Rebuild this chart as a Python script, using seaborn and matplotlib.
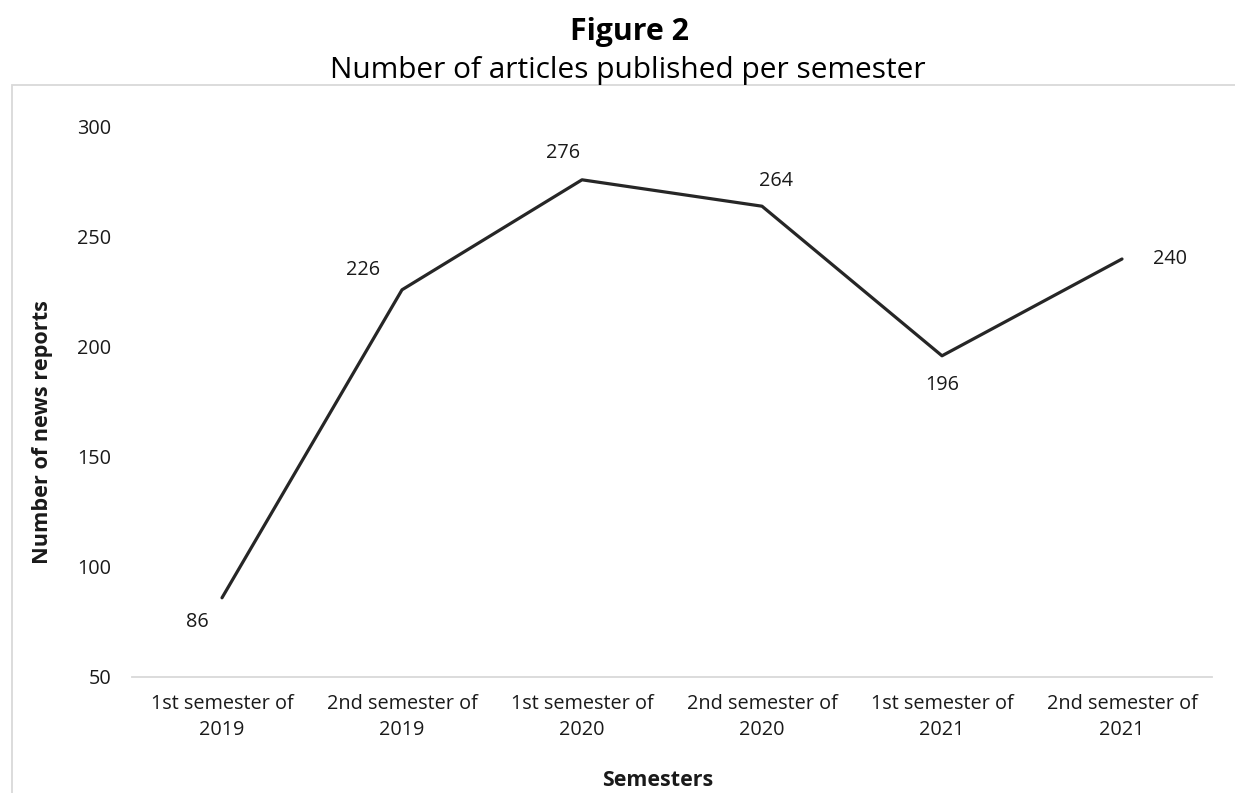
import pandas as pd
import matplotlib.pyplot as plt
import seaborn as sns
from matplotlib.patches import Rectangle

# data
semesters = ["1st semester of\n2019", "2nd semester of\n2019",
             "1st semester of\n2020", "2nd semester of\n2020",
             "1st semester of\n2021", "2nd semester of\n2021"]
reports = [86, 226, 276, 264, 196, 240]
# label offsets in pixels (dx, dy) relative to each point
label_offsets = [(-25, -24), (-39, 20), (-19, 27), (14, 25), (0, -29), (48, 0)]
y_ticks = [50, 100, 150, 200, 250, 300]

sns.set_theme(style="white")
plt.rcParams['font.family'] = ['Open Sans', 'DejaVu Sans']

df = pd.DataFrame({"pos": range(len(semesters)), "reports": reports})

dpi = 100
W, H = 1235, 793
fig = plt.figure(figsize=(W / dpi, H / dpi), dpi=dpi)
ax = fig.add_axes([132 / W, 1 - 677 / H, (1212 - 132) / W, (677 - 127) / H])

sns.lineplot(data=df, x="pos", y="reports", ax=ax, color="#262626", linewidth=2.3)

ax.set_xlim(-0.5, len(semesters) - 0.5)
ax.set_ylim(50, 300)
ax.set_xticks(range(len(semesters)))
ax.set_xticklabels(semesters, fontsize=14.3, color="#1a1a1a", linespacing=1.42)
ax.set_yticks(y_ticks)
ax.set_yticklabels([str(t) for t in y_ticks], fontsize=14.3, color="#1a1a1a")
ax.tick_params(axis="both", length=0)
ax.tick_params(axis="x", pad=12)
ax.tick_params(axis="y", pad=15)

for side in ["top", "right", "left"]:
    ax.spines[side].set_visible(False)
ax.spines["bottom"].set_color("#d9d9d9")
ax.spines["bottom"].set_linewidth(1.3)

pt = 72 / dpi
for i, (v, (dx, dy)) in enumerate(zip(reports, label_offsets)):
    ax.annotate(str(v), (i, v), xytext=(dx * pt, dy * pt), textcoords="offset points",
                ha="center", va="center", fontsize=14.3, color="#1a1a1a")

ax.set_xlabel("")
ax.set_ylabel("")
fig.text(43 / W, 1 - 432 / H, "Number of news reports", rotation=90,
         ha="center", va="center", fontsize=15.6, fontweight="bold", color="#1a1a1a")
fig.text(658 / W, 1 - 780 / H, "Semesters", ha="center", va="center",
         fontsize=15.4, fontweight="bold", color="#1a1a1a")

fig.text(629 / W, 1 - 40 / H, "Figure 2", ha="center", va="baseline",
         fontsize=21.8, fontweight="bold", color="black")
fig.text(628 / W, 1 - 78 / H, "Number of articles published per semester",
         ha="center", va="baseline", fontsize=21.5, color="black")

# chart area border
fig.patches.append(Rectangle((12 / W, -0.05), 1.1, 1 - 85 / H + 0.05,
                             transform=fig.transFigure, fill=False,
                             edgecolor="#d9d9d9", linewidth=1.3, zorder=0))

fig.savefig("out.png", dpi=dpi)
